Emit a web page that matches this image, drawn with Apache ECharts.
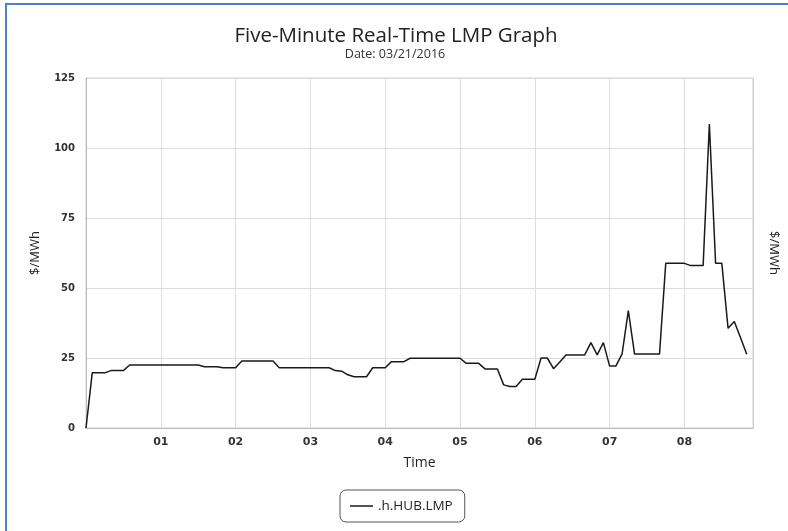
<!DOCTYPE html>
<html>
<head>
<meta charset="utf-8">
<script src="https://cdn.jsdelivr.net/npm/echarts@6/dist/echarts.min.js"></script>
<style>html,body{margin:0;padding:0;background:#fff;}#chart{width:788px;height:531px;}</style>
</head>
<body>
<div id="chart"></div>
<script>
const times = [
"00:00","00:05","00:10","00:15","00:20","00:25","00:30","00:35","00:40","00:45","00:50","00:55",
"01:00","01:05","01:10","01:15","01:20","01:25","01:30","01:35","01:40","01:45","01:50","01:55",
"02:00","02:05","02:10","02:15","02:20","02:25","02:30","02:35","02:40","02:45","02:50","02:55",
"03:00","03:05","03:10","03:15","03:20","03:25","03:30","03:35","03:40","03:45","03:50","03:55",
"04:00","04:05","04:10","04:15","04:20","04:25","04:30","04:35","04:40","04:45","04:50","04:55",
"05:00","05:05","05:10","05:15","05:20","05:25","05:30","05:35","05:40","05:45","05:50","05:55",
"06:00","06:05","06:10","06:15","06:20","06:25","06:30","06:35","06:40","06:45","06:50","06:55",
"07:00","07:05","07:10","07:15","07:20","07:25","07:30","07:35","07:40","07:45","07:50","07:55",
"08:00","08:05","08:10","08:15","08:20","08:25","08:30","08:35","08:40","08:45","08:50"
];
const lmp = [
0,19.7,19.7,19.7,20.5,20.5,20.5,22.5,22.5,22.5,22.5,22.5,
22.5,22.5,22.5,22.5,22.5,22.5,22.5,21.9,21.9,21.9,21.5,21.5,
21.5,23.9,23.9,23.9,23.9,23.9,23.9,21.5,21.5,21.5,21.5,21.5,
21.5,21.5,21.5,21.5,20.5,20.3,19.0,18.3,18.3,18.3,21.5,21.5,
21.5,23.7,23.7,23.7,24.9,24.9,24.9,24.9,24.9,24.9,24.9,24.9,
24.9,23.1,23.1,23.1,21.1,21.1,21.1,15.4,14.8,14.8,17.4,17.4,
17.4,25.0,25.0,21.2,23.6,26.1,26.1,26.1,26.1,30.5,26.1,30.5,
22.1,22.1,26.5,41.9,26.4,26.4,26.4,26.4,26.4,58.8,58.8,58.8,
58.8,58.0,58.0,58.0,108.6,58.8,58.8,35.6,38.0,32.2,26.3
];
const hourLabels = ["01","02","03","04","05","06","07","08"];
const yTicks = [0,25,50,75,100,125];
const seriesName = ".h.HUB.LMP";
const titleText = "Five-Minute Real-Time LMP Graph";
const subText = "Date: 03/21/2016";
const axisEndTime = "08:55";

function toMin(t){const p=t.split(":");return (+p[0])*60+(+p[1]);}
const points = times.map((t,i)=>[toMin(t), lmp[i]]);

const chart = echarts.init(document.getElementById('chart'));
const font = "DejaVu Sans";
chart.setOption({
  animation:false,
  backgroundColor:'#ffffff',
  graphic:[{type:'rect',shape:{x:6,y:4,width:800,height:560},style:{fill:'none',stroke:'#4f81c7',lineWidth:2},silent:true}],
  title:[
    {text:titleText,left:391,top:21,textAlign:'center',textStyle:{fontFamily:'Open Sans',fontSize:20.5,fontWeight:'normal',color:'#222'}},
    {text:subText,left:390,top:43,textAlign:'center',textStyle:{fontFamily:'Open Sans',fontSize:12.5,fontWeight:'normal',color:'#333'}}
  ],
  grid:{left:86,right:33,top:78,bottom:103,show:true,borderColor:'#d0d0d0',borderWidth:1},
  legend:{data:[seriesName],left:340,top:490,padding:[9,12,9,10],borderColor:'#555',borderWidth:1,borderRadius:6,
    icon:'rect',itemWidth:23,itemHeight:1.5,itemGap:8,
    textStyle:{fontFamily:'Open Sans',fontSize:13.5,color:'#222'}},
  xAxis:{type:'value',min:0,max:toMin(axisEndTime),interval:60,
    name:'Time',nameLocation:'middle',nameGap:28,nameTextStyle:{fontFamily:'Open Sans',fontSize:14,color:'#222'},
    axisLine:{show:true,lineStyle:{color:'#bbbbbb'}},
    axisTick:{show:false},
    axisLabel:{margin:9,fontFamily:font,fontSize:11,fontWeight:'bold',color:'#333',
      formatter:v=>{ if(v%60!==0||v===0) return ''; return hourLabels[v/60-1]||''; }},
    splitLine:{show:true,lineStyle:{color:'#dddddd'}}},
  yAxis:[
    {type:'value',min:yTicks[0],max:yTicks[yTicks.length-1],interval:25,position:'left',
      name:'$/MWh',nameLocation:'middle',nameGap:44,nameTextStyle:{fontFamily:'Open Sans',fontSize:13,color:'#222'},
      axisLine:{show:true,lineStyle:{color:'#bbbbbb'}},axisTick:{show:false},
      axisLabel:{margin:11,fontFamily:font,fontSize:10,fontWeight:'bold',color:'#333'},
      splitLine:{show:true,lineStyle:{color:'#dddddd'}}},
    {type:'value',min:yTicks[0],max:yTicks[yTicks.length-1],interval:25,position:'right',
      name:'$/MWh',nameLocation:'middle',nameGap:14,nameRotate:-90,nameTextStyle:{fontFamily:'Open Sans',fontSize:13,color:'#222'},
      axisLine:{show:true,lineStyle:{color:'#cccccc'}},axisTick:{show:false},axisLabel:{show:false},splitLine:{show:false}}
  ],
  series:[{name:seriesName,type:'line',data:points,symbol:'none',
    lineStyle:{color:'#1a1a1a',width:1.5},itemStyle:{color:'#1a1a1a'}}]
});
</script>
</body>
</html>
